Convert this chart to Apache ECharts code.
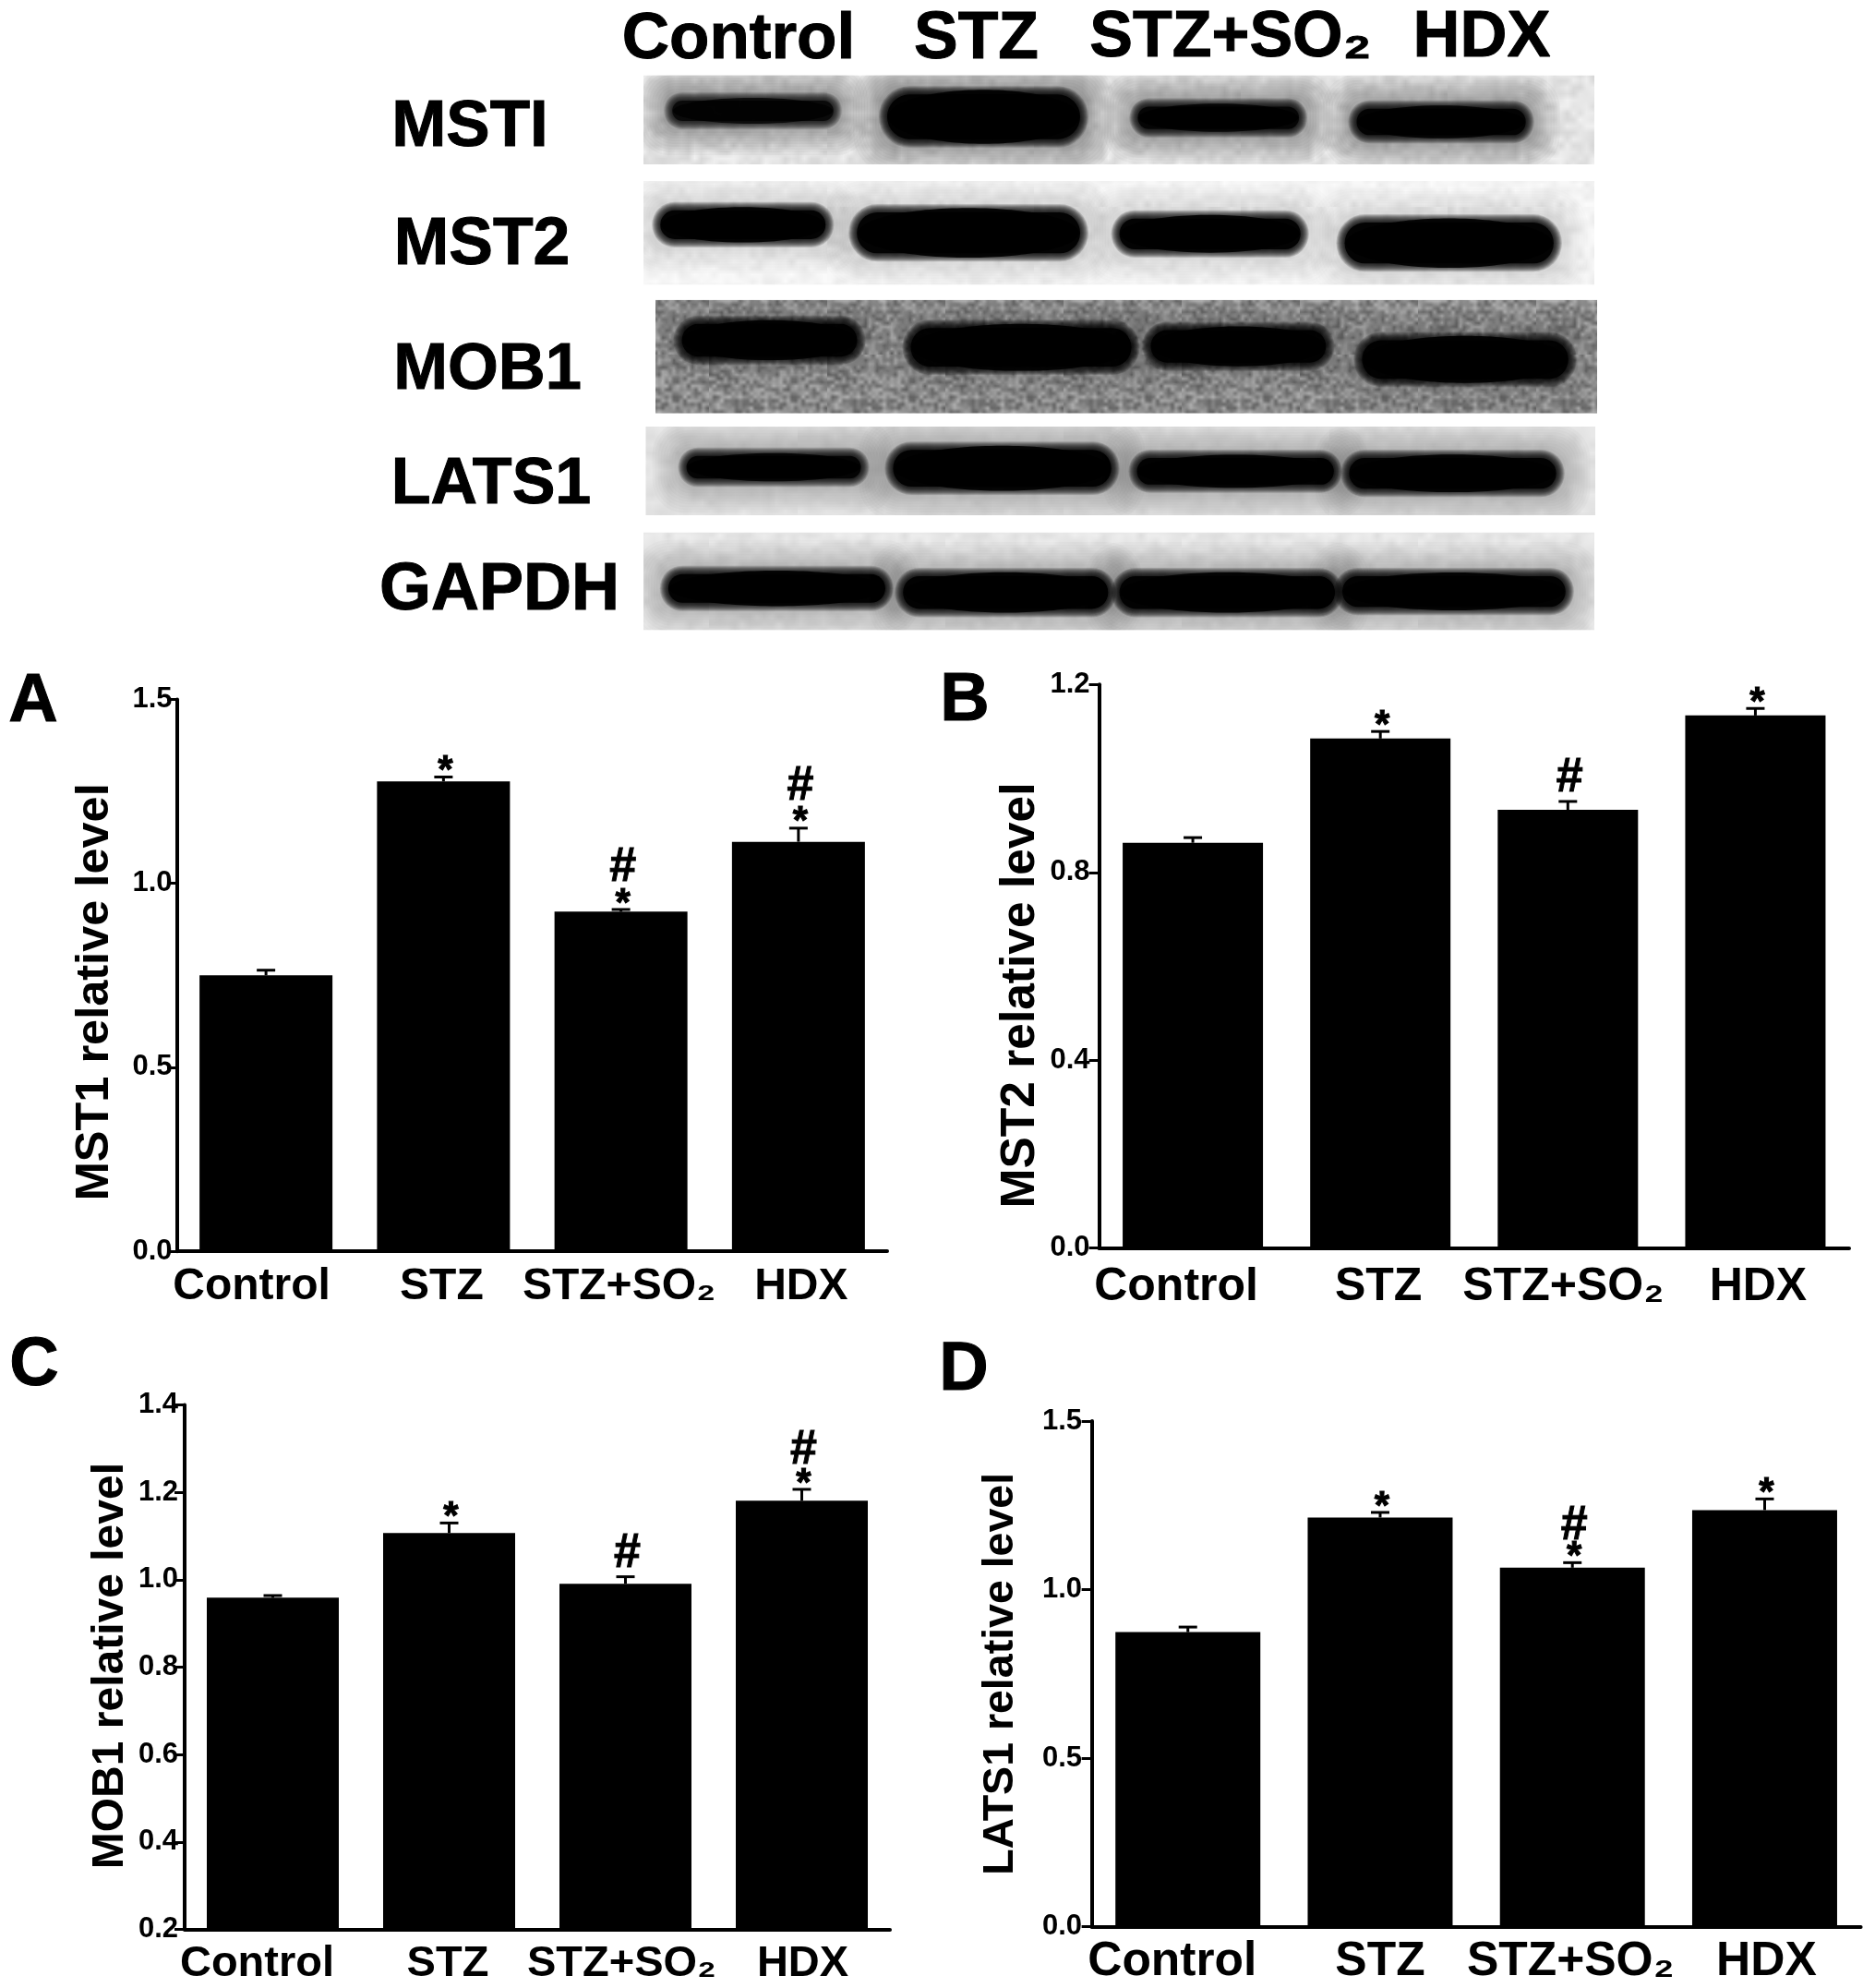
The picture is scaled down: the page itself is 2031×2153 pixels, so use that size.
<!DOCTYPE html>
<html><head><meta charset="utf-8">
<style>html,body{margin:0;padding:0;background:#fff}#c{width:2031px;height:2153px}</style>
<script src="https://cdn.jsdelivr.net/npm/echarts@6/dist/echarts.min.js"></script>
</head><body><div id="c"></div>
<script>
const categories = ['Control', 'STZ', 'STZ+SO\u2082', 'HDX'];
const yTitles = ['MST1 relative level', 'MST2 relative level', 'MOB1 relative level', 'LATS1 relative level'];
const panelLetters = ['A', 'B', 'C', 'D'];

const mst1Values = [0.75, 1.277, 0.923, 1.113];
const mst1ErrTop = [0.764, 1.289, 0.929, 1.15];
const mst1Sig = ['', '*', '*#', '*#'];

const mst2Values = [0.863, 1.085, 0.933, 1.134];
const mst2ErrTop = [0.874, 1.1, 0.951, 1.149];
const mst2Sig = ['', '*', '#', '*'];

const mob1Values = [0.959, 1.107, 0.991, 1.181];
const mob1ErrTop = [0.964, 1.13, 1.007, 1.207];
const mob1Sig = ['', '*', '#', '*#'];

const lats1Values = [0.874, 1.214, 1.065, 1.236];
const lats1ErrTop = [0.889, 1.229, 1.08, 1.269];
const lats1Sig = ['', '*', '*#', '*'];

// Blot bands: [left, right, top, bottom, strength]
const blotNames = ['MSTI', 'MST2', 'MOB1', 'LATS1', 'GAPDH'];
const mstiBands = [[380,585,245,300,0.8],[650,895,230,345,1],[965,1170,260,320,0.92],[1240,1455,265,335,0.96]];
const mst2Bands = [[365,575,515,590,1],[612,895,520,625,1],[942,1172,535,615,1],[1225,1490,545,650,1]];
const mob1Bands = [[392,615,795,880,1],[680,960,805,905,1],[982,1205,810,895,1],[1248,1510,835,935,1]];
const lats1Bands = [[398,620,1120,1180,0.95],[658,935,1105,1200,1],[965,1215,1125,1195,1],[1232,1495,1125,1205,1]];
const gapdhBands = [[375,650,1410,1485,1],[670,930,1415,1500,1],[942,1215,1415,1500,1],[1222,1505,1415,1495,1]];

const FONT = '"Liberation Sans", Arial, sans-serif';

function texture(base, amp, cell) {
  const n = 32, small = document.createElement('canvas');
  small.width = small.height = n;
  const ctx = small.getContext('2d'), img = ctx.createImageData(n, n);
  for (let y = 0; y < n; y++) for (let x = 0; x < n; x++) {
    const h = Math.sin(x * 12.9898 + y * 78.233) * 43758.5453, f = h - Math.floor(h);
    const v = base + (f - 0.5) * 2 * amp, i = (y * n + x) * 4;
    img.data[i] = img.data[i + 1] = img.data[i + 2] = v; img.data[i + 3] = 255;
  }
  ctx.putImageData(img, 0, 0);
  const big = document.createElement('canvas');
  big.width = big.height = n * cell;
  const b = big.getContext('2d');
  b.imageSmoothingEnabled = true;
  b.drawImage(small, 0, 0, n * cell, n * cell);
  return big;
}

const grids = [], xAxes = [], yAxes = [], series = [];

const panels = [
  { rect: [192, 757.4, 769, 597.8], y: [0, 1.5, 0.5], v: mst1Values, e: mst1ErrTop, s: mst1Sig, bw: 144, font: 48, shift: [-15.5, -2, -2, 3], margin: 15, tick: 5.5, nameSize: 50.5, nameGap: 63, nameDown: 18, hashGap: 45 },
  { rect: [1190.5, 741.3, 812.5, 610.4], y: [0, 1.2, 0.4], v: mst2Values, e: mst2ErrTop, s: mst2Sig, bw: 152, font: 50, shift: [-18, -2, -5, 3], margin: 18, tick: 10, nameSize: 51.5, nameGap: 59, nameDown: 31.5, hashGap: 45 },
  { rect: [200, 1521.6, 764, 568], y: [0.2, 1.4, 0.2], v: mob1Values, e: mob1ErrTop, s: mob1Sig, bw: 143, font: 47, shift: [-17, -1.5, -4, 1], margin: 14, tick: 7, nameSize: 48, nameGap: 56.5, nameDown: -1.5, hashGap: 42 },
  { rect: [1182.6, 1539, 833, 547.7], y: [0, 1.5, 0.5], v: lats1Values, e: lats1ErrTop, s: lats1Sig, bw: 157, font: 51.5, shift: [-17, 0, -2, 2], margin: 12, tick: 10.5, nameSize: 46.5, nameGap: 75, nameDown: 0, hashGap: 39.5 }
];

panels.forEach(function (p, k) {
  const gi = grids.length;
  grids.push({ left: p.rect[0], top: p.rect[1], width: p.rect[2], height: p.rect[3], containLabel: false });
  const rich = {};
  p.shift.forEach(function (d, i) {
    rich['c' + i] = {
      fontFamily: FONT, fontWeight: 'bold', fontSize: p.font, color: '#000',
      padding: d < 0 ? [0, -2 * d, 0, 0] : [0, 0, 0, 2 * d]
    };
  });
  xAxes.push({
    gridIndex: gi, type: 'category', data: categories,
    axisLine: { onZero: false, lineStyle: { color: '#000', width: 4 } },
    axisTick: { alignWithLabel: true, length: 13, lineStyle: { color: '#000', width: 3 } },
    axisLabel: {
      interval: 0, margin: p.margin, hideOverlap: false,
      formatter: function (val, i) { return '{c' + i + '|' + val + '}'; }, rich: rich
    }
  });
  yAxes.push({
    gridIndex: gi, type: 'value', min: p.y[0], max: p.y[1], interval: p.y[2],
    splitLine: { show: false },
    axisLine: { show: true, lineStyle: { color: '#000', width: 4 } },
    axisTick: { show: true, length: 11, lineStyle: { color: '#000', width: 3 } },
    axisLabel: {
      margin: p.tick, fontFamily: FONT, fontWeight: 'bold', fontSize: 31, color: '#000',
      formatter: function (v) { return v.toFixed(1); }
    },
    name: yTitles[k], nameLocation: 'middle', nameRotate: 90, nameGap: p.nameGap, nameMoveOverlap: false,
    nameTextStyle: {
      fontFamily: FONT, fontWeight: 'bold', fontSize: p.nameSize, color: '#000',
      padding: p.nameDown >= 0 ? [0, 2 * p.nameDown, 0, 0] : [0, 0, 0, -2 * p.nameDown]
    }
  });
  series.push({
    type: 'bar', xAxisIndex: gi, yAxisIndex: gi, data: p.v, barWidth: p.bw,
    itemStyle: { color: '#000' }, silent: true, z: 3
  });
  series.push({
    type: 'custom', xAxisIndex: gi, yAxisIndex: gi, silent: true, z: 4, clip: false,
    data: p.e.map(function (e, i) { return [i, e, p.v[i]]; }),
    encode: { x: 0, y: 1 },
    renderItem: function (params, api) {
      const i = api.value(0), top = api.coord([i, api.value(1)]), base = api.coord([i, api.value(2)]);
      const kids = [
        { type: 'line', shape: { x1: top[0], y1: base[1], x2: top[0], y2: top[1] }, style: { stroke: '#000', lineWidth: 3 } },
        { type: 'line', shape: { x1: top[0] - 10, y1: top[1], x2: top[0] + 10, y2: top[1] }, style: { stroke: '#000', lineWidth: 3 } }
      ];
      const sig = p.s[i], hasStar = sig.indexOf('*') >= 0, hasHash = sig.indexOf('#') >= 0;
      if (hasStar) kids.push({ type: 'text', x: top[0] + 2, y: top[1] - 15 + 9, style: { text: '*', font: 'bold 42px ' + FONT, fill: '#000', stroke: '#000', lineWidth: 1, align: 'center', verticalAlign: 'middle' } });
      if (hasHash) kids.push({ type: 'text', x: top[0] + 2, y: top[1] - (hasStar ? p.hashGap : 25), style: { text: '#', font: 'bold 52px ' + FONT, fill: '#000', stroke: '#000', lineWidth: 1, align: 'center', verticalAlign: 'middle' } });
      return { type: 'group', children: kids };
    }
  });
});

// Western-blot strips: each is a hidden-axis grid in the units the bands were read in
const blots = [
  { rect: [697, 81.6, 1030, 96.4], x: [345, 1540], y: [185, 405], bands: mstiBands, base: 228, amp: 14, cell: 7, haze: 0.03 },
  { rect: [697, 196, 1030, 112.4], x: [345, 1540], y: [445, 700], bands: mst2Bands, base: 244, amp: 8, cell: 7, haze: 0.012 },
  { rect: [710, 324.8, 1020, 122.9], x: [360, 1545], y: [738, 1018], bands: mob1Bands, base: 138, amp: 40, cell: 4, haze: 0.006 },
  { rect: [699.5, 462, 1028.5, 96], x: [348, 1543], y: [1050, 1268], bands: lats1Bands, base: 226, amp: 7, cell: 9, haze: 0.018 },
  { rect: [697, 576.5, 1030, 106], x: [345, 1540], y: [1310, 1550], bands: gapdhBands, base: 230, amp: 9, cell: 8, haze: 0.02 }
];
function soft(x, y, w, h, spread, n, alpha, radiusK) {
  const out = [];
  for (let j = 0; j < n; j++) {
    const e = spread * (1 - j / n), hh = h + 2 * e;
    out.push({ type: 'rect', shape: { x: x - e, y: y - e, width: w + 2 * e, height: hh, r: hh * radiusK }, style: { fill: 'rgba(0,0,0,' + alpha + ')' } });
  }
  return out;
}
blots.forEach(function (b) {
  const gi = grids.length;
  grids.push({ left: b.rect[0], top: b.rect[1], width: b.rect[2], height: b.rect[3] });
  xAxes.push({ gridIndex: gi, type: 'value', show: false, min: b.x[0], max: b.x[1] });
  yAxes.push({ gridIndex: gi, type: 'value', show: false, min: b.y[0], max: b.y[1], inverse: true });
  const tex = texture(b.base, b.amp, b.cell);
  series.push({
    type: 'custom', xAxisIndex: gi, yAxisIndex: gi, silent: true, z: 2, clip: true,
    data: [[b.x[0], b.x[1], b.y[0], b.y[1]]], encode: { x: [0, 1], y: [2, 3] },
    renderItem: function (params, api) {
      const a = api.coord([api.value(0), api.value(2)]), c = api.coord([api.value(1), api.value(3)]);
      return { type: 'rect', shape: { x: a[0], y: a[1], width: c[0] - a[0], height: c[1] - a[1] }, style: { fill: { image: tex, repeat: 'repeat' } } };
    }
  });
  series.push({
    type: 'custom', xAxisIndex: gi, yAxisIndex: gi, silent: true, z: 3, clip: true,
    data: b.bands, encode: { x: [0, 1], y: [2, 3] },
    renderItem: function (params, api) {
      const a = api.coord([api.value(0), api.value(2)]), c = api.coord([api.value(1), api.value(3)]);
      const w = c[0] - a[0], h = c[1] - a[1], s = api.value(4);
      const haze = soft(a[0], a[1], w, h, 36, 12, b.haze, 0.35);
      const edge = soft(a[0] + 1, a[1] + 1, w - 2, h - 2, 9, 9, 0.16 * s, 0.5);
      const core = { type: 'rect', shape: { x: a[0] + 1, y: a[1] + 1, width: w - 2, height: h - 2, r: (h - 2) * 0.5 }, style: { fill: 'rgba(0,0,0,' + (0.92 * s) + ')' } };
      const bulge = { type: 'ellipse', shape: { cx: a[0] + w / 2, cy: a[1] + h / 2, rx: w * 0.49, ry: h * 0.58 }, style: { fill: 'rgba(0,0,0,' + (0.9 * s) + ')' } };
      return { type: 'group', children: haze.concat(edge, [bulge, core]) };
    }
  });
});

function txt(text, x, y, size) {
  return { type: 'text', x: x, y: y, z: 10, silent: true, style: { text: text, font: 'bold ' + size + 'px ' + FONT, fill: '#000', stroke: '#000', lineWidth: 1, align: 'center', verticalAlign: 'middle' } };
}
const headerX = [800, 1057.5, 1333, 1605], headerY = [43, 43, 42, 42], headerSize = [71, 71.5, 70, 70.5];
const rowX = [509, 522, 528, 532, 541], rowY = [138, 266, 402, 526, 640], rowSize = [71, 71.5, 70.5, 70, 72];
const letterX = [36, 1045, 37, 1044], letterY = [761, 760, 1480, 1485];
const elements = [];
categories.forEach(function (c, i) { elements.push(txt(c, headerX[i], headerY[i], headerSize[i])); });
blotNames.forEach(function (c, i) { elements.push(txt(c, rowX[i], rowY[i], rowSize[i])); });
panelLetters.forEach(function (c, i) { elements.push(txt(c, letterX[i], letterY[i], 74)); });

const chart = echarts.init(document.getElementById('c'), null, { renderer: 'canvas', width: 2031, height: 2153 });
chart.setOption({
  animation: false, backgroundColor: '#fff', tooltip: { show: false },
  grid: grids, xAxis: xAxes, yAxis: yAxes, series: series, graphic: { elements: elements }
});
</script></body></html>
